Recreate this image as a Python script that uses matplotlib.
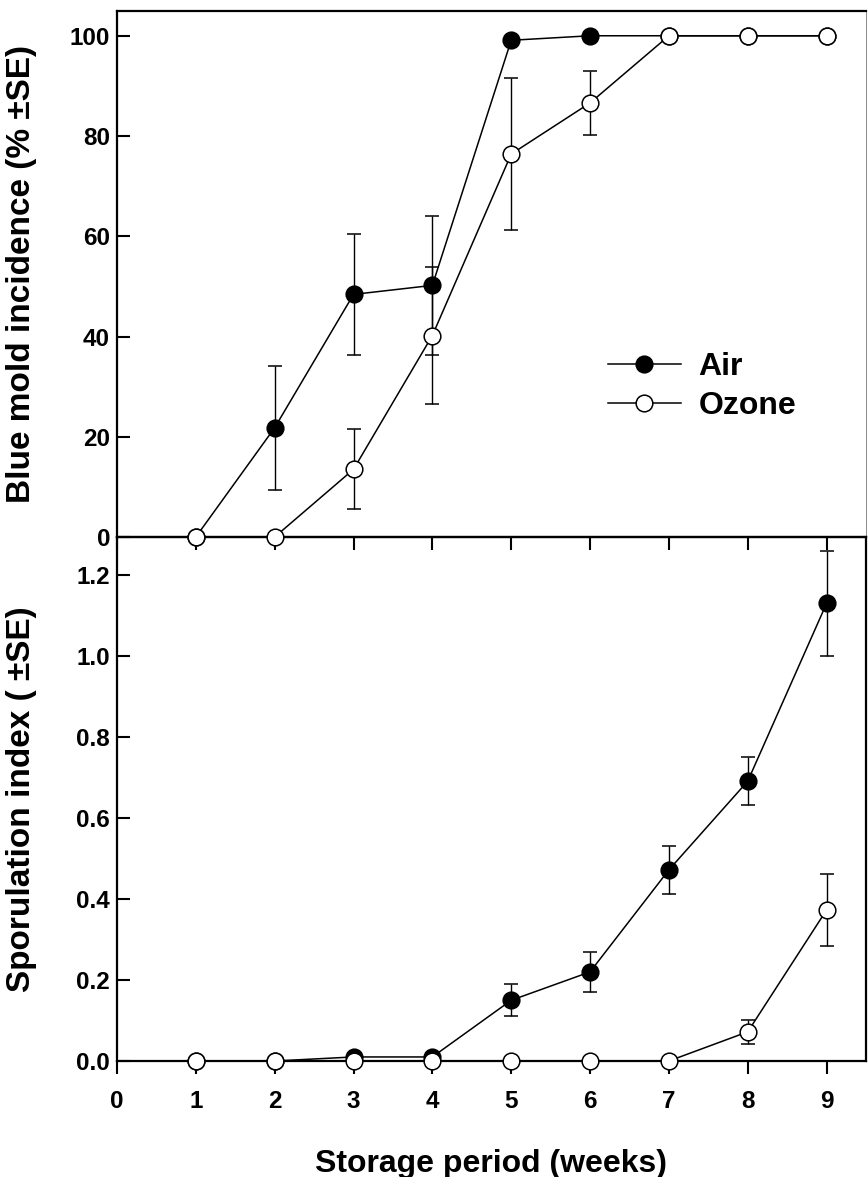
import matplotlib
matplotlib.use("Agg")
import matplotlib.pyplot as plt

plt.rcParams['font.family'] = ['Liberation Sans', 'DejaVu Sans']
plt.rcParams['font.weight'] = 'bold'

weeks = [1, 2, 3, 4, 5, 6, 7, 8, 9]

# Top panel: blue mold incidence (%)
air_inc = [0, 21.8, 48.4, 50.2, 99.1, 100, 100, 100, 100]
air_inc_se = [0, 12.4, 12.0, 13.9, 0, 0, 0, 0, 0]
ozone_inc = [0, 0, 13.5, 40.2, 76.4, 86.6, 100, 100, 100]
ozone_inc_se = [0, 0, 8.0, 13.6, 15.2, 6.3, 0, 0, 0]

# Bottom panel: sporulation index
air_spor = [0, 0, 0.01, 0.01, 0.15, 0.22, 0.472, 0.691, 1.13]
air_spor_se = [0, 0, 0, 0, 0.04, 0.05, 0.06, 0.06, 0.13]
ozone_spor = [0, 0, 0, 0, 0, 0, 0, 0.072, 0.373]
ozone_spor_se = [0, 0, 0, 0, 0, 0, 0, 0.03, 0.09]

series_labels = ["Air", "Ozone"]
x_ticks = [0, 1, 2, 3, 4, 5, 6, 7, 8, 9]
top_yticks = [0, 20, 40, 60, 80, 100]
bot_yticks = [0.0, 0.2, 0.4, 0.6, 0.8, 1.0, 1.2]

fig = plt.figure(figsize=(8.68, 11.77), dpi=100)
left, right = 117 / 868, 866 / 868
top_y0 = 1 - 537 / 1177
top_y1 = 1 - 10.7 / 1177
bot_y0 = 1 - 1061 / 1177
ax2 = fig.add_axes([left, bot_y0, right - left, top_y0 - bot_y0])
ax1 = fig.add_axes([left, top_y0, right - left, top_y1 - top_y0])
ax1.set_zorder(2)
ax2.set_zorder(1)
ax1.patch.set_visible(False)

mk = dict(markersize=12, markeredgecolor='black', markeredgewidth=1.1,
          color='black', linewidth=1.1, elinewidth=1.0, capsize=5, capthick=1.0)

def unclip(cont):
    line, caps, bars = cont.lines
    line.set_clip_on(False)
    for c in caps:
        c.set_clip_on(False)
    for b in bars:
        b.set_clip_on(False)

def draw(ax, ya, ea, yo, eo):
    ea_ = [e if e > 0 else float('nan') for e in ea]
    eo_ = [e if e > 0 else float('nan') for e in eo]
    c1 = ax.errorbar(weeks, ya, yerr=ea_, marker='o', markerfacecolor='black',
                     label=series_labels[0], zorder=3, **mk)
    c2 = ax.errorbar(weeks, yo, yerr=eo_, marker='o', markerfacecolor='white',
                     label=series_labels[1], zorder=4, **mk)
    unclip(c1)
    unclip(c2)

draw(ax1, air_inc, air_inc_se, ozone_inc, ozone_inc_se)
draw(ax2, air_spor, air_spor_se, ozone_spor, ozone_spor_se)

for ax in (ax1, ax2):
    ax.set_xlim(0, 9.5)
    ax.set_xticks(x_ticks)
    ax.tick_params(axis='y', direction='in', length=9, width=1.5, labelsize=17.5, pad=5)
    ax.tick_params(axis='x', direction='out', length=9, width=1.5, labelsize=17.5, pad=12)
    for s in ax.spines.values():
        s.set_linewidth(1.6)
    for lab in ax.get_xticklabels() + ax.get_yticklabels():
        lab.set_fontweight('bold')

ax1.set_ylim(0, 105)
ax1.set_yticks(top_yticks)
ax1.set_xticklabels([])
ax1.spines['right'].set_linewidth(0.6)
ax1.spines['right'].set_color('#777777')
ax2.set_ylim(0, 1.294)
ax2.set_yticks(bot_yticks)
ax2.set_yticklabels([f"{v:.1f}" for v in bot_yticks])

ax1.set_ylabel("Blue mold incidence (% \u00b1SE)", fontsize=24, fontweight='bold')
ax2.set_ylabel("Sporulation index ( \u00b1SE)", fontsize=24, fontweight='bold')
ax1.yaxis.set_label_coords(-0.107, 0.5)
ax2.yaxis.set_label_coords(-0.107, 0.5)
ax2.set_xlabel("Storage period (weeks)", fontsize=23, fontweight='bold', labelpad=26)

handles, labels = ax1.get_legend_handles_labels()
handles = [h[0] for h in handles]
ax1.legend(handles, labels, loc='center left', bbox_to_anchor=(0.655, 0.286),
           frameon=False, prop={'weight': 'bold', 'size': 23},
           handlelength=2.3, handletextpad=0.55, labelspacing=0.3,
           borderaxespad=0, borderpad=0)

fig.savefig("out.png", dpi=100)
